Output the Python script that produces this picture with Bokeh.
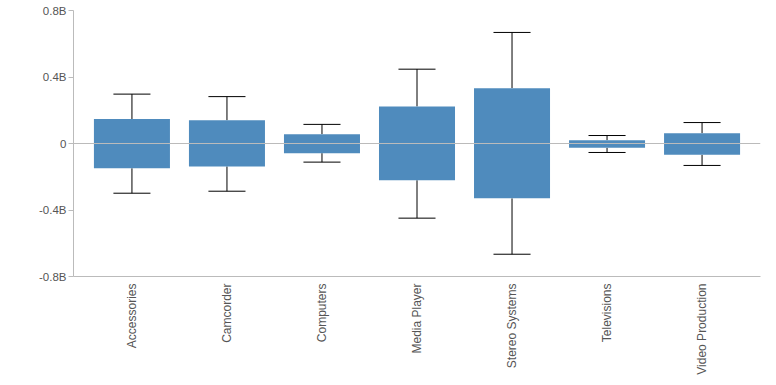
import math
from bokeh.plotting import figure
from bokeh.models import FactorRange, Range1d, FixedTicker, CustomJSTickFormatter, Span, ColumnDataSource
from bokeh.transform import dodge
from bokeh.embed import file_html
from bokeh.resources import INLINE

categories = ["Accessories", "Camcorder", "Computers", "Media Player",
              "Stereo Systems", "Televisions", "Video Production"]
# values in billions
box_high = [0.147, 0.140, 0.056, 0.223, 0.333, 0.020, 0.062]
box_low = [-0.149, -0.138, -0.058, -0.221, -0.330, -0.026, -0.068]
whisker_high = [0.297, 0.282, 0.115, 0.447, 0.668, 0.048, 0.126]
whisker_low = [-0.299, -0.287, -0.112, -0.449, -0.666, -0.054, -0.132]
y_ticks = [-0.8, -0.4, 0, 0.4, 0.8]

src = ColumnDataSource(dict(cat=categories, hi=box_high, lo=box_low,
                            whi=whisker_high, wlo=whisker_low))

xr = FactorRange(*categories, range_padding=0.115, range_padding_units="absolute")
p = figure(x_range=xr, y_range=Range1d(-0.8, 0.8),
           frame_width=687, frame_height=266,
           min_border_left=73, min_border_top=10, min_border_right=8, min_border_bottom=100,
           output_backend="svg", toolbar_location=None)

p.segment(x0="cat", y0="whi", x1="cat", y1="hi", source=src, line_color="black", line_width=1)
p.segment(x0="cat", y0="lo", x1="cat", y1="wlo", source=src, line_color="black", line_width=1)
p.segment(x0=dodge("cat", -0.195, range=xr), y0="whi", x1=dodge("cat", 0.195, range=xr), y1="whi",
          source=src, line_color="black", line_width=1)
p.segment(x0=dodge("cat", -0.195, range=xr), y0="wlo", x1=dodge("cat", 0.195, range=xr), y1="wlo",
          source=src, line_color="black", line_width=1)
p.vbar(x="cat", top="hi", bottom="lo", width=0.8, source=src, fill_color="#4f8bbd", line_color=None)

p.add_layout(Span(location=0, dimension="width", line_color="#bbbbbb", line_width=1, level="overlay"))

p.xgrid.visible = False
p.ygrid.visible = False
p.outline_line_color = None

ya = p.yaxis[0]
ya.ticker = FixedTicker(ticks=y_ticks)
ya.formatter = CustomJSTickFormatter(code='return tick == 0 ? "0" : tick.toFixed(1) + "B";')
ya.axis_line_color = "#bbbbbb"
ya.major_tick_line_color = "#bbbbbb"
ya.major_tick_out = 5
ya.major_tick_in = 0
ya.minor_tick_line_color = None
ya.major_label_standoff = 2
ya.major_label_text_font = "Liberation Sans"
ya.major_label_text_font_size = "11.5px"
ya.major_label_text_color = "#555555"

xa = p.xaxis[0]
xa.axis_line_color = "#bbbbbb"
xa.major_tick_line_color = None
xa.major_tick_out = 0
xa.major_tick_in = 0
xa.minor_tick_line_color = None
xa.major_label_orientation = math.pi / 2
xa.major_label_standoff = 7
xa.major_label_text_font = "Liberation Sans"
xa.major_label_text_font_size = "12px"
xa.major_label_text_color = "#555555"

open("out.html", "w").write(file_html(p, INLINE))
